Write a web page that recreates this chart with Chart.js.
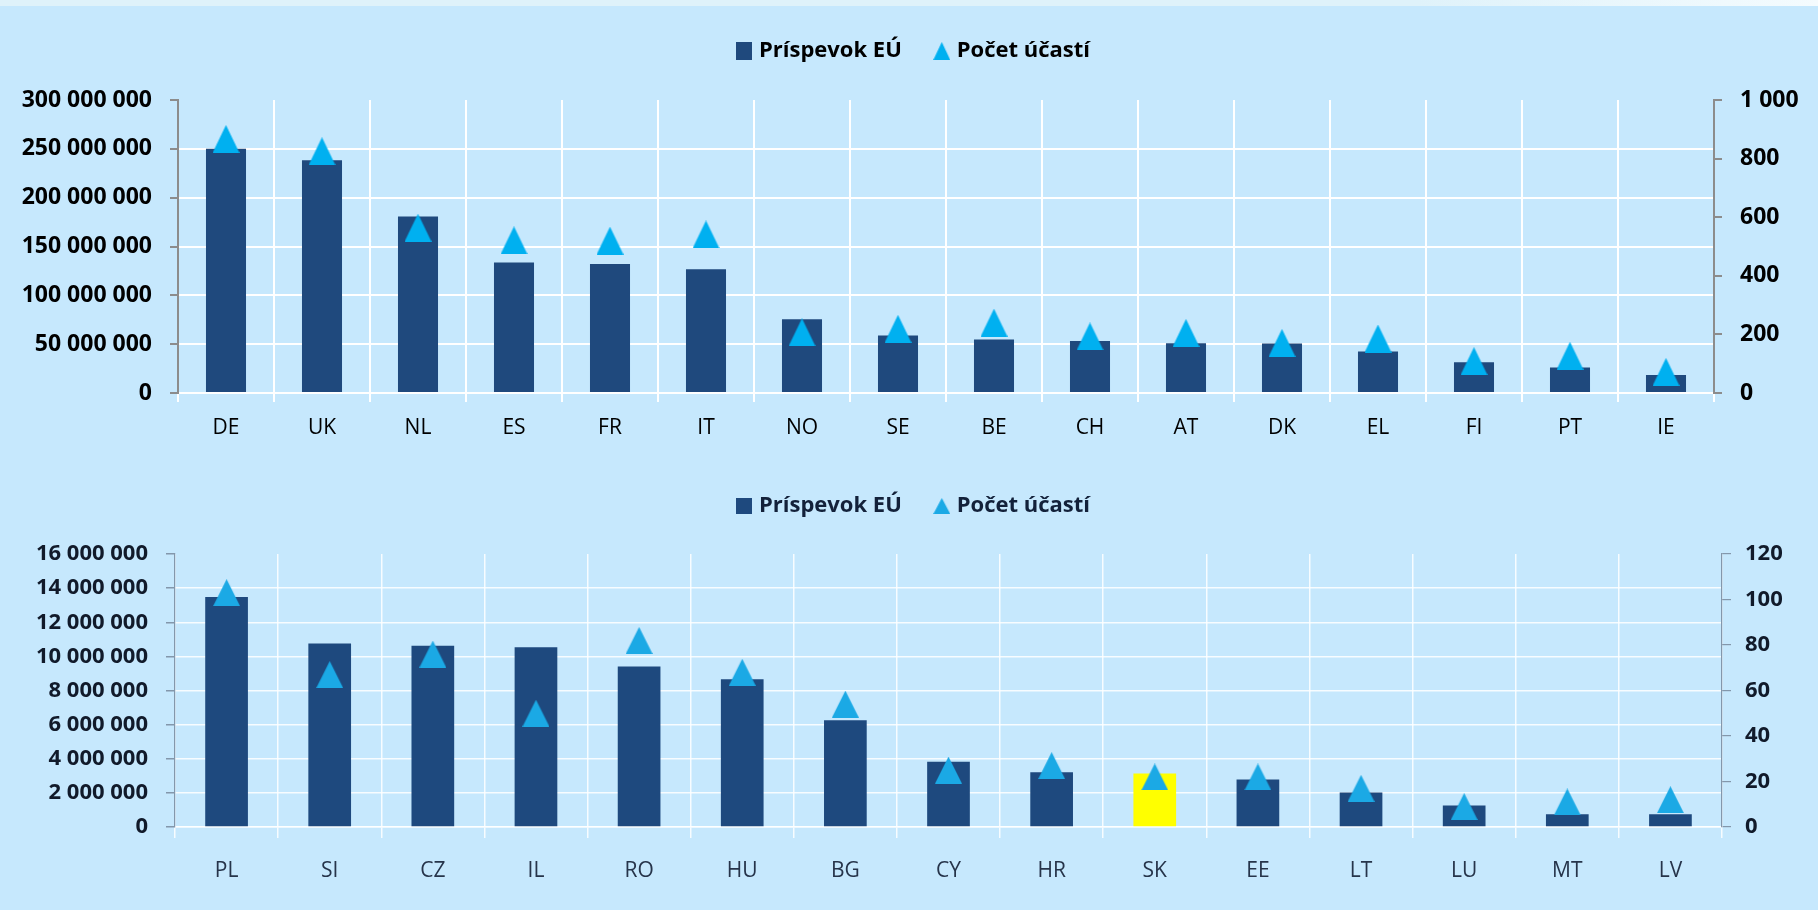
<!DOCTYPE html>
<html>
<head>
<meta charset="utf-8">
<script src="https://cdn.jsdelivr.net/npm/chart.js@4.4.1/dist/chart.umd.min.js"></script>
<style>
html,body{margin:0;padding:0;background:#C6E8FD;width:1818px;height:910px;overflow:hidden;}
#strip{position:absolute;left:0;top:0;width:1818px;height:6px;background:linear-gradient(to right,#DFF2FA 0%,#DFF2FA 78%,#F4FBFE 100%);}
canvas{position:absolute;left:0;}
</style>
</head>
<body>
<div id="strip"></div>
<canvas id="chartTop" width="1818" height="455" style="top:0px"></canvas>
<canvas id="chartBottom" width="1818" height="455" style="top:455px"></canvas>
<script>
// ---------- data ----------
const seriesNames = ['Príspevok EÚ', 'Počet účastí'];

const topCategories = ['DE','UK','NL','ES','FR','IT','NO','SE','BE','CH','AT','DK','EL','FI','PT','IE'];
const topContribution = [250000000, 238200000, 180800000, 133600000, 132200000, 126800000, 75500000, 58800000, 54700000, 53300000, 51000000, 50600000, 42400000, 31500000, 26000000, 18500000];
const topParticipations = [867, 825, 564, 521, 520, 541, 207, 219, 240, 193, 205, 171, 186, 109, 127, 72];
const topLeftTicks = [0, 50000000, 100000000, 150000000, 200000000, 250000000, 300000000];
const topRightTicks = [0, 200, 400, 600, 800, 1000];

const bottomCategories = ['PL','SI','CZ','IL','RO','HU','BG','CY','HR','SK','EE','LT','LU','MT','LV'];
const bottomContribution = [13480000, 10760000, 10620000, 10540000, 9400000, 8660000, 6250000, 3820000, 3210000, 3140000, 2780000, 2020000, 1260000, 750000, 750000];
const bottomParticipations = [103, 67, 76, 50, 82, 68, 54, 25, 27, 22, 22, 17, 9, 11, 12];
const bottomLeftTicks = [0, 2000000, 4000000, 6000000, 8000000, 10000000, 12000000, 14000000, 16000000];
const bottomRightTicks = [0, 20, 40, 60, 80, 100, 120];
const highlightCategory = 'SK';

// ---------- helpers ----------
const FONT = "'Open Sans', 'DejaVu Sans', sans-serif";
const fmt = v => String(Math.round(v)).replace(/\B(?=(\d{3})+(?!\d))/g, ' ');

function triImg(w, h, color) {
  const c = document.createElement('canvas');
  c.width = w; c.height = h;
  const g = c.getContext('2d');
  g.fillStyle = color;
  g.beginPath(); g.moveTo(w / 2, 0); g.lineTo(w, h); g.lineTo(0, h); g.closePath(); g.fill();
  return c;
}
function rectImg(w, h, color) {
  const c = document.createElement('canvas');
  c.width = w; c.height = h;
  const g = c.getContext('2d');
  g.fillStyle = color; g.fillRect(0, 0, w, h);
  return c;
}
function setTicks(arr) {
  return s => { s.ticks = arr.map(v => ({ value: v })); };
}

function makeChart(id, p) {
  const barColors = p.categories.map(c => c === p.highlight ? '#FFFF00' : p.barColor);
  const triMarker = triImg(p.triW, p.triH, p.triColor);
  const legendBar = rectImg(16, p.legBoxH, p.barColor);
  const legendTri = triImg(17, p.legBoxH, p.triColor);
  const leftMax = p.leftTicks[p.leftTicks.length - 1];
  const rightMax = p.rightTicks[p.rightTicks.length - 1];

  return new Chart(document.getElementById(id), {
    data: {
      labels: p.categories,
      datasets: [
        {
          type: 'bar', label: seriesNames[0], data: p.contribution, yAxisID: 'y',
          backgroundColor: barColors, borderWidth: 0, order: 1,
          categoryPercentage: 1, barPercentage: p.barPct
        },
        {
          type: 'line', label: seriesNames[1], data: p.participations, yAxisID: 'y1',
          showLine: false, pointStyle: triMarker, pointRadius: 6, pointHoverRadius: 6,
          backgroundColor: p.triColor, borderColor: p.triColor, order: 0, clip: false
        }
      ]
    },
    options: {
      responsive: false, animation: false, devicePixelRatio: 1,
      layout: { padding: { top: p.legendTop, left: 0, right: 0, bottom: 0 } },
      plugins: {
        tooltip: { enabled: false },
        legend: {
          position: 'top',
          labels: {
            usePointStyle: true, boxWidth: 8, boxHeight: 22, padding: 36,
            color: p.legendColor,
            font: { family: FONT, weight: 'bold', size: 22 },
            generateLabels: chart => {
              const items = Chart.defaults.plugins.legend.labels.generateLabels(chart);
              items.sort((a, b) => a.datasetIndex - b.datasetIndex);
              items.forEach(it => { it.pointStyle = it.datasetIndex === 0 ? legendBar : legendTri; });
              return items;
            }
          }
        }
      },
      scales: {
        x: {
          grid: { color: p.gridColor, lineWidth: p.gridWidth, tickLength: p.xTickLen, tickColor: p.gridColor, offset: true },
          border: { color: p.gridColor, width: p.gridWidth },
          ticks: { color: p.xLabelColor, font: { family: FONT, size: 21 }, padding: p.xPad, maxRotation: 0, autoSkip: false },
          afterFit: s => { s.height = p.xHeight; }
        },
        y: {
          position: 'left', min: 0, max: leftMax,
          afterBuildTicks: setTicks(p.leftTicks),
          grid: {
            color: c => (c.tick && c.tick.value === leftMax) ? 'rgba(0,0,0,0)' : p.gridColor,
            lineWidth: p.gridWidth, tickColor: p.axisColor, tickLength: p.yTickLen
          },
          border: { color: p.axisColor, width: p.axisWidth },
          ticks: { color: p.yLabelColor, font: { family: FONT, weight: 'bold', size: p.yFont }, padding: p.yPad, callback: v => fmt(v) },
          afterFit: s => { s.width = p.leftW; }
        },
        y1: {
          position: 'right', min: 0, max: rightMax,
          afterBuildTicks: setTicks(p.rightTicks),
          grid: { drawOnChartArea: false, tickColor: p.axisColor, tickLength: p.yTickLen, lineWidth: p.axisWidth },
          border: { color: p.axisColor, width: p.axisWidth },
          ticks: { color: p.yLabelColor, font: { family: FONT, weight: 'bold', size: p.yFont }, padding: p.y1Pad, callback: v => fmt(v) },
          afterFit: s => { s.width = p.rightW; }
        }
      }
    },
    plugins: [{
      id: 'fixLegend',
      afterInit: chart => {
        const lg = chart.legend;
        const orig = lg.fit.bind(lg);
        lg.fit = function () {
          orig();
          this.height = p.legendH;
          this.lineWidths = this.lineWidths.map(w => w - 2 * p.legendShift);
        };
      }
    }]
  });
}

makeChart('chartTop', {
  categories: topCategories, contribution: topContribution, participations: topParticipations,
  leftTicks: topLeftTicks, rightTicks: topRightTicks, highlight: null,
  barColor: '#1F497D', triColor: '#00B0F0', triW: 27, triH: 28, barPct: 0.417, legBoxH: 18,
  legendColor: '#000000', xLabelColor: '#000000', yLabelColor: '#000000',
  gridColor: '#FFFFFF', gridWidth: 2, axisColor: '#8C8C8C', axisWidth: 2,
  xTickLen: 9, yTickLen: 8, xPad: 13, yPad: 18, y1Pad: 18, yFont: 23,
  leftW: 178, rightW: 104, xHeight: 62, legendTop: 4, legendH: 96, legendShift: 6
});

makeChart('chartBottom', {
  categories: bottomCategories, contribution: bottomContribution, participations: bottomParticipations,
  leftTicks: bottomLeftTicks, rightTicks: bottomRightTicks, highlight: highlightCategory,
  barColor: '#1E497E', triColor: '#1BA9E5', triW: 27, triH: 27, barPct: 0.414, legBoxH: 16,
  legendColor: '#13213A', xLabelColor: '#26344A', yLabelColor: '#111A2A',
  gridColor: 'rgba(255,255,255,0.85)', gridWidth: 1.5, axisColor: '#8397AB', axisWidth: 1.2,
  xTickLen: 11, yTickLen: 9, xPad: 20, yPad: 18, y1Pad: 14, yFont: 22,
  leftW: 175, rightW: 96, xHeight: 83, legendTop: 4, legendH: 95, legendShift: 6
});
</script>
</body>
</html>
